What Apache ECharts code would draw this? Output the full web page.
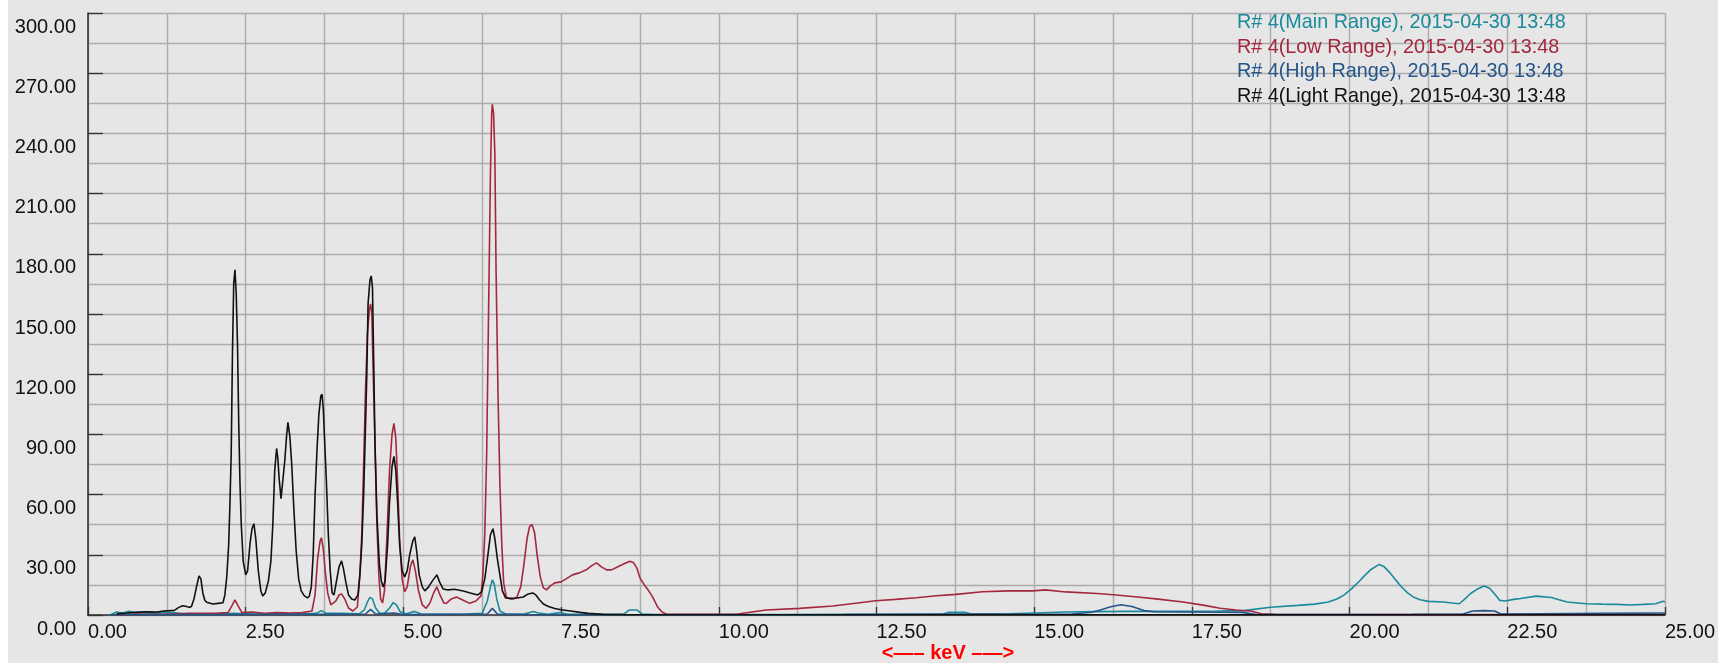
<!DOCTYPE html>
<html>
<head>
<meta charset="utf-8">
<script src="https://cdn.jsdelivr.net/npm/echarts@6.0.0/dist/echarts.min.js"></script>
<style>
html,body{margin:0;padding:0;background:#ffffff;}
#bg{position:absolute;left:8px;top:0;width:1710px;height:663px;background:#e6e6e6;}
#chart{position:absolute;left:0;top:0;width:1718px;height:663px;}
</style>
</head>
<body>
<div id="bg"></div>
<div id="chart"></div>
<script>
// ---- data ----
const xTickLabels = ['0.00','2.50','5.00','7.50','10.00','12.50','15.00','17.50','20.00','22.50','25.00'];
const yTickLabels = ['0.00','30.00','60.00','90.00','120.00','150.00','180.00','210.00','240.00','270.00','300.00'];
const seriesNames = [
  'R# 4(Main Range), 2015-04-30 13:48',
  'R# 4(Low Range), 2015-04-30 13:48',
  'R# 4(High Range), 2015-04-30 13:48',
  'R# 4(Light Range), 2015-04-30 13:48'
];

// Main Range (teal)
const mainKeV = [0.35,0.45,0.55,0.65,0.75,0.90,1.05,1.20,1.35,1.50,1.70,2.00,2.30,2.60,3.00,3.40,3.62,3.70,3.78,4.00,4.30,4.38,4.43,4.47,4.51,4.56,4.62,4.70,4.78,4.84,4.89,4.95,5.05,5.18,5.28,5.60,6.00,6.25,6.33,6.38,6.41,6.44,6.48,6.53,6.62,6.90,7.00,7.06,7.14,7.30,7.48,7.60,8.00,8.50,8.58,8.70,8.78,9.00,10.00,11.00,12.00,13.00,13.55,13.65,13.90,14.00,14.60,15.00,15.50,16.00,16.50,17.00,17.50,17.90,18.32,18.75,19.18,19.45,19.66,19.80,19.91,20.03,20.15,20.25,20.34,20.47,20.55,20.64,20.73,20.82,20.92,21.01,21.12,21.25,21.49,21.62,21.74,21.83,21.92,22.03,22.13,22.22,22.30,22.38,22.47,22.60,22.71,22.96,23.20,23.32,23.45,23.75,24.00,24.24,24.45,24.66,24.85,24.97,25.00];
const mainCounts = [0,1.5,1.0,1.8,1.2,1.6,1.0,1.5,1.2,0.6,0.5,0.4,0.8,0.5,0.6,0.5,0.8,2.2,0.8,0.8,0.6,2.5,6.5,8.8,8.0,3.5,1.0,0.8,3.5,6.2,5.0,1.5,0.6,1.8,0.5,0.4,0.5,0.8,7.0,14.0,17.5,15.5,8.0,2.0,0.5,0.4,1.2,1.8,1.0,0.3,1.2,0.3,0.3,0.5,2.5,2.5,0.5,0.2,0.2,0.2,0.3,0.3,0.5,1.3,1.3,0.5,0.6,1.0,1.5,1.7,1.8,1.8,1.9,2.0,2.2,3.9,4.8,5.4,6.5,8.0,9.9,13.0,16.7,20.0,22.7,25.2,24.0,21.0,17.5,14.1,11.0,9.0,7.6,6.8,6.5,6.0,5.6,8.0,10.7,13.0,14.5,13.3,10.5,7.3,7.0,7.8,8.2,9.4,8.7,7.6,6.5,5.6,5.4,5.3,5.0,5.3,5.6,6.8,6.5];

// Low Range (dark red)
const lowKeV = [0.40,0.80,1.20,1.60,2.00,2.22,2.28,2.33,2.38,2.44,2.60,2.80,3.00,3.20,3.40,3.55,3.60,3.64,3.68,3.70,3.73,3.76,3.80,3.85,3.88,3.93,3.98,4.02,4.07,4.13,4.20,4.27,4.31,4.34,4.37,4.40,4.43,4.46,4.48,4.50,4.52,4.55,4.58,4.61,4.64,4.67,4.70,4.74,4.78,4.82,4.85,4.88,4.91,4.94,4.98,5.02,5.06,5.11,5.15,5.19,5.24,5.30,5.36,5.42,5.48,5.53,5.58,5.64,5.68,5.76,5.84,5.94,6.05,6.15,6.23,6.26,6.29,6.32,6.35,6.38,6.40,6.41,6.43,6.45,6.47,6.50,6.53,6.56,6.59,6.63,6.70,6.75,6.80,6.86,6.91,6.96,7.00,7.04,7.08,7.12,7.17,7.22,7.27,7.33,7.40,7.50,7.58,7.68,7.79,7.90,7.98,8.06,8.14,8.22,8.30,8.40,8.50,8.59,8.65,8.70,8.75,8.82,8.88,8.95,9.03,9.10,9.18,9.50,10.00,10.30,10.75,11.28,11.81,12.20,12.49,12.80,13.13,13.45,13.76,14.18,14.60,14.98,15.18,15.50,16.00,16.30,16.64,17.00,17.36,17.70,17.95,18.20,18.45,18.60,18.82,19.50,25.00];
const lowCounts = [0,0.5,0.3,0.8,0.8,1.2,4.5,7.5,4.5,1.2,1.5,0.8,1.2,1.0,1.2,2.0,10.0,28.0,37.0,38.5,33.0,22.0,11.0,5.0,4.2,7.0,10.0,10.5,8.0,3.5,2.0,4.0,20.0,40.0,75.0,113.0,140.0,152.0,155.0,150.0,122.0,85.0,45.0,20.0,8.0,6.0,12.0,40.0,72.0,90.0,95.5,88.0,65.0,38.0,18.0,11.5,14.0,24.0,27.5,22.0,12.0,5.0,3.3,6.0,11.0,14.0,10.0,6.0,5.8,8.0,9.0,7.5,5.8,7.0,9.5,20.0,40.0,80.0,150.0,220.0,250.0,254.5,250.0,230.0,170.0,110.0,65.0,35.0,16.0,9.0,8.0,8.0,9.0,14.0,25.0,38.0,44.0,45.0,41.0,30.0,19.0,13.5,12.5,14.5,16.0,16.5,18.0,20.0,21.0,22.5,24.5,26.0,24.0,22.5,22.5,24.0,25.5,26.8,26.0,23.5,18.5,15.0,12.5,9.0,4.0,1.5,0.3,0.3,0.4,0.5,2.5,3.3,4.5,6.0,7.1,7.8,8.6,9.6,10.3,11.6,12.0,12.0,12.5,11.5,10.7,10.0,9.0,7.8,6.5,4.8,3.4,2.5,1.9,0.6,0.3,0.2,0.2];

// High Range (dark blue)
const highKeV = [0.35,1.00,2.00,3.00,4.00,4.40,4.48,4.56,4.85,5.00,6.33,6.41,6.49,7.00,9.00,10.00,12.00,13.00,14.00,15.00,15.60,15.91,16.05,16.20,16.37,16.55,16.74,16.90,17.30,18.00,18.30,18.50,19.00,20.00,21.00,21.80,21.95,22.13,22.30,22.40,23.00,24.00,25.00];
const highCounts = [0,0.3,0.2,0.3,0.3,0.5,2.8,0.5,1.0,0.2,0.5,3.3,0.5,0.2,0.1,0.1,0.2,0.4,0.5,0.4,0.5,1.4,2.5,4.0,5.1,4.2,2.2,1.6,1.5,1.4,1.3,0.3,0.2,0.2,0.3,0.5,2.0,2.2,2.0,0.5,0.6,0.8,1.0];

// Light Range (black)
const lightKeV = [0.45,0.53,0.62,0.75,0.93,1.10,1.20,1.37,1.44,1.50,1.55,1.60,1.64,1.68,1.72,1.76,1.79,1.82,1.85,1.88,1.98,2.06,2.14,2.17,2.20,2.23,2.25,2.27,2.29,2.31,2.33,2.35,2.37,2.39,2.41,2.43,2.46,2.50,2.53,2.57,2.60,2.63,2.66,2.70,2.74,2.77,2.81,2.86,2.90,2.93,2.96,2.99,3.01,3.03,3.06,3.09,3.12,3.15,3.17,3.20,3.23,3.26,3.30,3.34,3.38,3.43,3.48,3.51,3.54,3.57,3.60,3.63,3.66,3.69,3.71,3.73,3.75,3.78,3.81,3.84,3.87,3.90,3.94,3.98,4.02,4.05,4.09,4.13,4.18,4.23,4.28,4.31,4.34,4.37,4.40,4.42,4.44,4.47,4.49,4.51,4.53,4.55,4.58,4.62,4.65,4.68,4.71,4.75,4.78,4.82,4.85,4.88,4.91,4.94,4.98,5.02,5.06,5.10,5.15,5.18,5.21,5.25,5.30,5.34,5.40,5.46,5.53,5.58,5.63,5.71,5.81,5.95,6.06,6.18,6.24,6.29,6.34,6.38,6.42,6.45,6.49,6.53,6.57,6.62,6.70,6.80,6.90,6.98,7.05,7.10,7.16,7.22,7.30,7.40,7.50,7.65,7.80,7.93,8.17,8.50,10.00,15.00,20.00,25.00];
const lightCounts = [0.5,0.8,1.0,1.3,1.6,1.5,2.0,2.3,3.8,4.6,4.4,3.8,4.2,8.0,14.0,19.5,18.0,11.0,7.5,6.4,5.5,5.8,6.1,10.0,19.0,35.0,55.0,80.0,130.0,165.0,172.0,160.0,135.0,95.0,65.0,45.0,27.0,20.0,22.0,36.0,43.0,45.5,38.0,22.0,12.0,9.5,11.0,17.0,27.0,45.0,72.0,83.0,78.0,68.0,58.0,58.0,77.0,90.0,96.0,89.0,75.0,55.0,32.0,18.0,12.0,9.5,8.5,9.5,14.0,30.0,60.0,82.0,100.0,109.0,110.0,103.0,88.0,66.0,40.0,22.0,11.0,10.0,17.0,24.0,27.0,23.0,16.0,10.0,8.0,7.5,10.0,20.0,35.0,60.0,95.0,120.0,155.0,167.0,169.0,163.0,125.0,85.0,50.0,25.0,17.0,14.0,17.0,35.0,56.0,74.0,79.0,72.0,55.0,35.0,22.0,19.0,22.0,30.0,37.0,39.0,32.0,20.0,14.0,12.0,14.0,17.0,20.0,16.0,13.0,12.5,12.8,12.0,11.0,10.0,11.5,18.0,30.0,40.0,43.0,38.0,28.0,20.0,12.0,8.5,8.3,8.5,9.0,10.5,11.0,10.0,7.5,5.5,4.2,3.2,2.6,2.0,1.3,0.8,0.3,0.2,0.1,0.1,0.1,0.1];

const seriesColors = ['#1b8a9b','#a3283e','#24558a','#111111'];

// ---- chart ----
function pairs(xs, ys){ return xs.map((x,i)=>[x, ys[i]]); }
const seriesData = [
  pairs(mainKeV, mainCounts),
  pairs(lowKeV, lowCounts),
  pairs(highKeV, highCounts),
  pairs(lightKeV, lightCounts)
];

const gridColor = '#acacac';
const axisColor = '#333333';
const fontFam = '"Liberation Sans", Arial, sans-serif';

const chart = echarts.init(document.getElementById('chart'), null, {renderer:'canvas'});
chart.setOption({
  animation: false,
  backgroundColor: 'transparent',
  grid: {left: 88, right: 52, top: 13, bottom: 48, containLabel: false},
  legend: {
    orient: 'vertical', left: 1232, top: 13, padding: 0,
    itemWidth: 0, itemHeight: 0, itemGap: 4.5, icon: 'rect',
    selectedMode: false,
    textStyle: {fontSize: 19.8, fontFamily: fontFam, lineHeight: 20},
    data: seriesNames.map((n,i)=>({name:n, textStyle:{color: seriesColors[i]}}))
  },
  xAxis: {
    type: 'value', min: 0, max: 25, interval: 2.5,
    axisLine: {show: true, onZero: false, lineStyle: {color: axisColor, width: 1.6}},
    axisTick: {show: true, inside: true, length: 8, lineStyle: {color: axisColor, width: 1.3}},
    axisLabel: {
      formatter: (v)=> xTickLabels[Math.round(v/2.5)],
      align: 'left', margin: 7, color: '#111', fontSize: 20, fontFamily: fontFam,
      showMinLabel: true, showMaxLabel: true
    },
    splitLine: {show: true, lineStyle: {color: gridColor, width: 1.4}},
    minorTick: {show: false, splitNumber: 2},
    minorSplitLine: {show: true, lineStyle: {color: gridColor, width: 1.4}}
  },
  yAxis: {
    type: 'value', min: 0, max: 300, interval: 30,
    axisLine: {show: true, onZero: false, lineStyle: {color: axisColor, width: 1.6}},
    axisTick: {show: true, inside: true, length: 15, lineStyle: {color: axisColor, width: 1.3}},
    axisLabel: {
      formatter: (v)=> yTickLabels[Math.round(v/30)],
      align: 'right', verticalAlign: 'top', padding: [4,0,0,0], margin: 12,
      color: '#111', fontSize: 20, fontFamily: fontFam,
      showMinLabel: true, showMaxLabel: true
    },
    splitLine: {show: true, lineStyle: {color: gridColor, width: 1.4}},
    minorTick: {show: false, splitNumber: 2},
    minorSplitLine: {show: true, lineStyle: {color: gridColor, width: 1.4}}
  },
  graphic: [{
    type: 'text', z: 100,
    style: {
      x: 948, y: 653, text: '<—– keV –—>',
      textAlign: 'center', textVerticalAlign: 'middle',
      fill: '#ff0000', font: 'bold 20px "Liberation Sans", Arial, sans-serif'
    }
  }],
  series: seriesNames.map((n,i)=>({
    name: n, type: 'line', data: seriesData[i],
    showSymbol: false, symbol: 'none', clip: true,
    lineStyle: {color: seriesColors[i], width: 1.6},
    itemStyle: {color: seriesColors[i]},
    z: 2 + i
  }))
});
</script>
</body>
</html>
